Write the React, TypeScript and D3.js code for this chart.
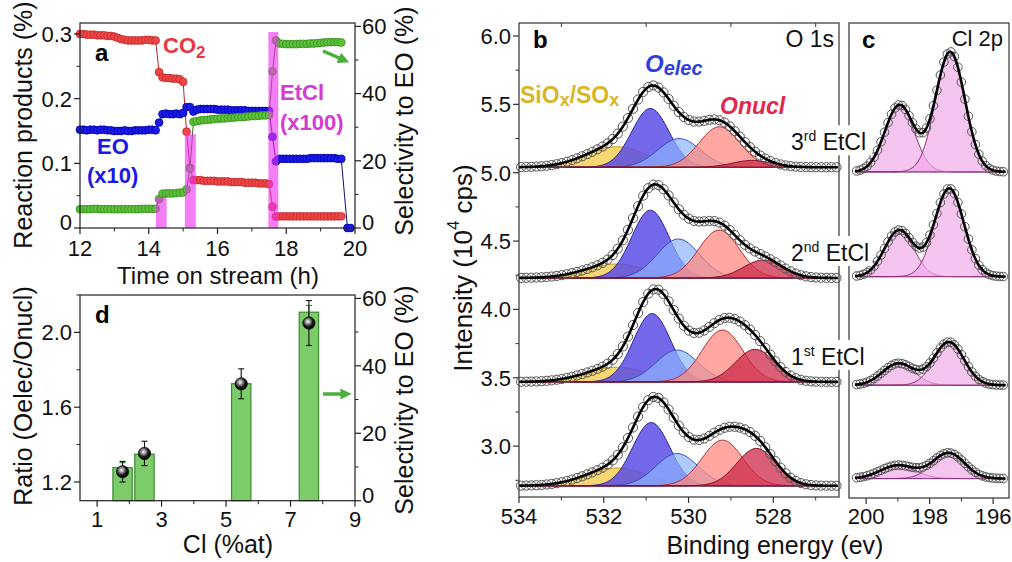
import React from 'react';
import * as d3 from 'd3';

const FONT = "'Liberation Sans', Arial, Helvetica, sans-serif";

// ---------------- Panel a data ----------------
const timeA = [
  12.0, 12.1, 12.2, 12.3, 12.4, 12.5, 12.6, 12.7, 12.8, 12.9,
  13.0, 13.1, 13.2, 13.3, 13.4, 13.5, 13.6, 13.7, 13.8, 13.9,
  14.0, 14.1, 14.2, 14.3, 14.4, 14.5, 14.6, 14.7, 14.8, 14.9,
  15.0, 15.1, 15.2, 15.3, 15.4, 15.5, 15.6, 15.7, 15.8, 15.9,
  16.0, 16.1, 16.2, 16.3, 16.4, 16.5, 16.6, 16.7, 16.8, 16.9,
  17.0, 17.1, 17.2, 17.3, 17.4, 17.5, 17.6, 17.7, 17.8, 17.9,
  18.0, 18.1, 18.2, 18.3, 18.4, 18.5, 18.6, 18.7, 18.8, 18.9,
  19.0, 19.1, 19.2, 19.3, 19.4, 19.5, 19.6,
];
const co2A = [
  0.300, 0.300, 0.299, 0.299, 0.299, 0.298, 0.298, 0.298, 0.297, 0.297, 0.296,
  0.294, 0.292, 0.291,
  0.290, 0.290, 0.290, 0.290, 0.290, 0.291, 0.291, 0.290, 0.290,
  0.241,
  0.233, 0.232, 0.232, 0.231, 0.231, 0.230,
  0.226, 0.149, 0.093,
  0.074, 0.074, 0.074, 0.073, 0.073, 0.073, 0.073, 0.072, 0.072, 0.072, 0.072, 0.071,
  0.071, 0.071, 0.071, 0.070, 0.070, 0.070, 0.070, 0.069, 0.069, 0.069, 0.068,
  0.033, 0.0175,
  0.018, 0.018, 0.018, 0.018, 0.018, 0.018, 0.018, 0.018, 0.018, 0.018,
  0.018, 0.018, 0.018, 0.018, 0.018, 0.018, 0.018, 0.018, 0.018,
];
const eoA = [
  0.152, 0.152, 0.151, 0.152, 0.152, 0.151, 0.152, 0.152, 0.151, 0.151, 0.150, 0.150,
  0.150, 0.151, 0.150, 0.150, 0.151, 0.151, 0.151, 0.151, 0.152, 0.152, 0.151,
  0.163,
  0.176, 0.177, 0.176, 0.176, 0.177, 0.176, 0.178,
  0.187, 0.187,
  0.180,
  0.183, 0.184, 0.184, 0.184, 0.184, 0.184, 0.183, 0.183, 0.183, 0.183, 0.182,
  0.182, 0.182, 0.182, 0.182, 0.181, 0.181, 0.181, 0.181, 0.181, 0.181,
  0.181,
  0.141, 0.103,
  0.107, 0.107, 0.107, 0.107, 0.107, 0.107, 0.107, 0.107, 0.107, 0.108,
  0.108, 0.108, 0.108, 0.108, 0.108, 0.108, 0.108, 0.107, 0.107,
];
const eoTailT = [19.78, 19.87];
const eoTailV = [0, 0];
const selA = [
  5.6, 5.6, 5.6, 5.6, 5.7, 5.7, 5.6, 5.6, 5.6, 5.6, 5.6, 5.6,
  5.6, 5.6, 5.6, 5.6, 5.6, 5.6, 5.7, 5.7, 5.7, 5.7, 5.7,
  8.6,
  10.2, 10.3, 10.3, 10.3, 10.4, 10.5, 10.6,
  11.5, 17.7, 31.6,
  31.8, 32.0, 32.1, 32.2, 32.3, 32.4, 32.5, 32.6, 32.6, 32.7, 32.8,
  32.9, 33.0, 33.0, 33.1, 33.2, 33.3, 33.3, 33.4, 33.5, 33.5,
  33.6,
  46.6, 55.8,
  54.9, 54.8, 54.7, 54.7, 54.7, 54.7, 54.8, 54.8, 54.8, 54.9,
  54.9, 55.0, 55.1, 55.2, 55.3, 55.3, 55.3, 55.3, 55.2,
];
const etclStart = [14.21, 15.05, 17.48];
const etclEnd = [14.52, 15.37, 17.77];
const etclVal = [0.048, 0.145, 0.303];
const aXTicks = [12, 14, 16, 18, 20];
const aXMinor = [13, 15, 17, 19];
const aLTicks = [0, 0.1, 0.2, 0.3];
const aLLabels = ['0', '0.1', '0.2', '0.3'];
const aLMinor = [0.05, 0.15, 0.25];
const aRTicks = [0, 20, 40, 60];
const aRMinor = [10, 30, 50];

// ---------------- Panel d data ----------------
const clAt = [1.79, 2.47, 5.47, 7.57];
const selD = [9.8, 13.8, 34.7, 55.9];
const selDErr = [1.5, 1.5, 1.5, 2.0];
const ratioD = [1.255, 1.353, 1.725, 2.05];
const ratioErr = [0.055, 0.065, 0.08, 0.12];
const dXTicks = [1, 3, 5, 7, 9];
const dXMinor = [2, 4, 6, 8];
const dLTicks = [1.2, 1.6, 2.0];
const dLLabels = ['1.2', '1.6', '2.0'];
const dLMinor = [1.4, 1.8, 2.2];
const dRTicks = [0, 20, 40, 60];
const dRMinor = [10, 30, 50];

// ---------------- Panel b data (O 1s) ----------------
// spectra from bottom to top
const oLabels = ['', '1st', '2nd', '3rd'];
const oBaselines = [2.71, 3.47, 4.23, 5.04];
// component order: SiOx/SOx, Oelec, Oelec(2), Onucl, Onucl(2)
const oCenters = [
  [531.7, 530.88, 530.27, 529.2, 528.4],
  [531.7, 530.86, 530.27, 529.2, 528.43],
  [531.7, 530.9, 530.24, 529.28, 528.24],
  [531.7, 530.9, 530.22, 529.27, 528.5],
];
const oAmps = [
  [0.13, 0.463, 0.236, 0.334, 0.273],
  [0.107, 0.50, 0.233, 0.379, 0.238],
  [0.102, 0.496, 0.285, 0.35, 0.131],
  [0.15, 0.43, 0.21, 0.296, 0.05],
];
const oSigmas = [
  [0.72, 0.44, 0.5, 0.48, 0.46],
  [0.72, 0.44, 0.5, 0.48, 0.46],
  [0.72, 0.44, 0.5, 0.48, 0.46],
  [0.72, 0.44, 0.5, 0.48, 0.46],
];
const bYTicks = [3.0, 3.5, 4.0, 4.5, 5.0, 5.5, 6.0];
const bYLabels = ['3.0', '3.5', '4.0', '4.5', '5.0', '5.5', '6.0'];
const bYMinor = [2.75, 3.25, 3.75, 4.25, 4.75, 5.25, 5.75];
const bXTicks = [534, 532, 530, 528];
const bXMinor = [533, 531, 529, 527];

// ---------------- Panel c data (Cl 2p) ----------------
const clBaselines = [4.1, 23.8, 46.7, 68.8];
const clCenters = [
  [199.0, 197.4],
  [198.98, 197.39],
  [198.96, 197.38],
  [198.95, 197.35],
];
const clAmps = [
  [2.8, 5.4],
  [4.6, 9.1],
  [9.8, 18.6],
  [14.1, 25.3],
];
const clSigmas = [
  [0.55, 0.5],
  [0.5, 0.47],
  [0.46, 0.46],
  [0.46, 0.46],
];
const cXTicks = [200, 198, 196];
const cXMinor = [199, 197];

// ---------------- helpers ----------------
const gauss = (x: number, c: number, a: number, s: number) =>
  a * Math.exp(-((x - c) * (x - c)) / (2 * s * s));

const oFill = ['#f5c842', '#5a4ce6', '#8db4ff', '#ff8a80', '#cc2848'];
const oOpacity = [0.75, 0.85, 0.7, 0.75, 0.75];
const oStroke = ['#c89a10', '#2a2a90', '#3050c0', '#b03030', '#801020'];

export default function App() {
  // scales panel a
  const xA = d3.scaleLinear().domain([12, 20]).range([80, 355]);
  const yAL = d3.scaleLinear().domain([0, 0.317]).range([228, 23]);
  const yAR = d3.scaleLinear().domain([0, 61]).range([228, 23]);
  // panel d
  const xD = d3.scaleLinear().domain([0.47, 9]).range([80, 355]);
  const yDL = d3.scaleLinear().domain([1.1, 2.2]).range([500.7, 295]);
  const yDR = d3.scaleLinear().domain([0, 61]).range([500.7, 295]);
  // panel b
  const xB = d3.scaleLinear().domain([534, 526.45]).range([519, 839]);
  const yB = d3.scaleLinear().domain([2.628, 6.095]).range([497, 23]);
  // panel c
  const xC = d3.scaleLinear().domain([200.54, 195.5]).range([849, 1009]);
  const yC = d3.scaleLinear().domain([0, 100]).range([498, 24]);

  const lineAL = d3.line<[number, number]>().x((d) => xA(d[0])).y((d) => yAL(d[1]));
  const lineAR = d3.line<[number, number]>().x((d) => xA(d[0])).y((d) => yAR(d[1]));

  const co2Pts: [number, number][] = timeA.map((t, i) => [t, co2A[i]]);
  const eoPts: [number, number][] = [
    ...timeA.map((t, i) => [t, eoA[i]] as [number, number]),
    ...eoTailT.map((t, i) => [t, eoTailV[i]] as [number, number]),
  ];
  const selPts: [number, number][] = timeA.map((t, i) => [t, selA[i]]);

  const tickLabel = { fontFamily: FONT, fontSize: 22, fill: '#111' } as const;
  const titleStyle = { fontFamily: FONT, fontSize: 25, fill: '#111' } as const;

  // O 1s curves
  const eGrid = d3.range(534, 526.44, -0.04);
  const eCirc = d3.range(533.95, 526.5, -0.12);
  const oTotal = (s: number, e: number) =>
    oBaselines[s] + oCenters[s].reduce((acc, c, k) => acc + gauss(e, c, oAmps[s][k], oSigmas[s][k]), 0);

  const clGrid = d3.range(200.35, 195.6, -0.03);
  const clCirc = d3.range(200.3, 195.6, -0.11);
  const clTotal = (s: number, e: number) =>
    clBaselines[s] + clCenters[s].reduce((acc, c, k) => acc + gauss(e, c, clAmps[s][k], clSigmas[s][k]), 0);

  const bandColor = '#ee30ee';

  return (
    <svg width={1012} height={562} style={{ position: 'absolute', left: 0, top: 0, background: '#fff' }}>
      <defs>
        <radialGradient id="ball" cx="42%" cy="38%" r="60%">
          <stop offset="0%" stopColor="#ffffff" />
          <stop offset="30%" stopColor="#9a9a9a" />
          <stop offset="65%" stopColor="#1a1a1a" />
          <stop offset="100%" stopColor="#000" />
        </radialGradient>
        <marker id="arrG" viewBox="0 0 10 10" refX="5" refY="5" markerWidth="3.2" markerHeight="3.2" orient="auto">
          <path d="M0,0 L10,5 L0,10 z" fill="#4cae3c" />
        </marker>
      </defs>
      <rect x={0} y={0} width={1012} height={562} fill="#fff" />

      {/* ================= Panel a ================= */}
      <g>
        <path d={lineAL(co2Pts) || ''} fill="none" stroke="#b02828" strokeWidth={1} />
        <path d={lineAL(eoPts) || ''} fill="none" stroke="#101070" strokeWidth={1} />
        <path d={lineAR(selPts) || ''} fill="none" stroke="#2e6e1e" strokeWidth={1} />
        {co2Pts.map((d, i) => (
          <circle key={'r' + i} cx={xA(d[0])} cy={yAL(d[1])} r={3.9} fill="#ee4646" stroke="#c02a2a" strokeWidth={0.8} />
        ))}
        {eoPts.map((d, i) => (
          <circle key={'b' + i} cx={xA(d[0])} cy={yAL(d[1])} r={3.9} fill="#1a1aee" stroke="#0000a0" strokeWidth={0.8} />
        ))}
        {selPts.map((d, i) => (
          <circle key={'g' + i} cx={xA(d[0])} cy={yAR(d[1])} r={3.9} fill="#5cc23a" stroke="#3a8a20" strokeWidth={0.8} />
        ))}
        {etclVal.map((v, i) => (
          <rect key={'band' + i} x={xA(etclStart[i])} y={yAL(v)} width={xA(etclEnd[i]) - xA(etclStart[i])}
            height={yAL(0) - yAL(v)} fill={bandColor} opacity={0.62} />
        ))}
        {/* frame */}
        <rect x={80} y={23} width={275} height={205} fill="none" stroke="#222" strokeWidth={1.2} />
        {aXTicks.map((t) => (
          <g key={'ax' + t}>
            <line x1={xA(t)} x2={xA(t)} y1={228} y2={234} stroke="#222" strokeWidth={1.2} />
            <text x={xA(t)} y={256} textAnchor="middle" style={tickLabel}>{t}</text>
          </g>
        ))}
        {aXMinor.map((t) => (
          <line key={'axm' + t} x1={xA(t)} x2={xA(t)} y1={228} y2={231.5} stroke="#222" strokeWidth={1} />
        ))}
        {aLTicks.map((t, i) => (
          <g key={'al' + t}>
            <line x1={74} x2={80} y1={yAL(t)} y2={yAL(t)} stroke="#222" strokeWidth={1.2} />
            <text x={72} y={yAL(t)} dy={t === 0 ? '0.1em' : '0.36em'} textAnchor="end" style={tickLabel}>{aLLabels[i]}</text>
          </g>
        ))}
        {aLMinor.map((t) => (
          <line key={'alm' + t} x1={76.5} x2={80} y1={yAL(t)} y2={yAL(t)} stroke="#222" strokeWidth={1} />
        ))}
        {aRTicks.map((t) => (
          <g key={'ar' + t}>
            <line x1={355} x2={361} y1={yAR(t)} y2={yAR(t)} stroke="#222" strokeWidth={1.2} />
            <text x={362} y={yAR(t)} dy={t === 0 ? '0.1em' : '0.36em'} textAnchor="start" style={tickLabel}>{t}</text>
          </g>
        ))}
        {aRMinor.map((t) => (
          <line key={'arm' + t} x1={355} x2={358.5} y1={yAR(t)} y2={yAR(t)} stroke="#222" strokeWidth={1} />
        ))}
        <text x={23} y={125} transform="rotate(-90 23 125)" textAnchor="middle" dominantBaseline="central" style={titleStyle}>Reaction products (%)</text>
        <text x={404} y={121} transform="rotate(-90 404 121)" textAnchor="middle" dominantBaseline="central" style={titleStyle}>Selectivity to EO (%)</text>
        <text x={218} y={284} textAnchor="middle" style={{ ...titleStyle, fontSize: 24 }}>Time on stream (h)</text>
        <text x={95} y={61} style={{ fontFamily: FONT, fontSize: 24, fontWeight: 'bold' }}>a</text>
        <text x={163} y={53} style={{ fontFamily: FONT, fontSize: 22, fontWeight: 'bold', fill: '#e8383d' }}>
          CO<tspan fontSize={17} dy={5}>2</tspan>
        </text>
        <text x={97} y={154} style={{ fontFamily: FONT, fontSize: 22, fontWeight: 'bold', fill: '#1a1ae6' }}>EO</text>
        <text x={87} y={183} style={{ fontFamily: FONT, fontSize: 22, fontWeight: 'bold', fill: '#1a1ae6' }}>(x10)</text>
        <text x={280} y={100} style={{ fontFamily: FONT, fontSize: 22, fontWeight: 'bold', fill: '#d23cd2' }}>EtCl</text>
        <text x={280} y={130} style={{ fontFamily: FONT, fontSize: 22, fontWeight: 'bold', fill: '#d23cd2' }}>(x100)</text>
        <line x1={323} y1={51} x2={344} y2={60} stroke="#4cae3c" strokeWidth={3.5} markerEnd="url(#arrG)" />
      </g>

      {/* ================= Panel d ================= */}
      <g>
        {clAt.map((c, i) => (
          <rect key={'bar' + i} x={xD(c - 0.3)} y={yDR(selD[i])} width={xD(c + 0.3) - xD(c - 0.3)}
            height={yDR(0) - yDR(selD[i])} fill="#7ccc6a" stroke="#3d8a30" strokeWidth={1.2} />
        ))}
        {clAt.map((c, i) => (
          <g key={'gerr' + i} stroke="#2e9a2e" strokeWidth={1.2}>
            <line x1={xD(c)} x2={xD(c)} y1={yDR(selD[i] - selDErr[i])} y2={yDR(selD[i] + selDErr[i])} />
            <line x1={xD(c) - 3} x2={xD(c) + 3} y1={yDR(selD[i] + selDErr[i])} y2={yDR(selD[i] + selDErr[i])} />
            <line x1={xD(c) - 3} x2={xD(c) + 3} y1={yDR(selD[i] - selDErr[i])} y2={yDR(selD[i] - selDErr[i])} />
          </g>
        ))}
        {clAt.map((c, i) => (
          <g key={'kerr' + i} stroke="#111" strokeWidth={1.1}>
            <line x1={xD(c)} x2={xD(c)} y1={yDL(ratioD[i] - ratioErr[i])} y2={yDL(ratioD[i] + ratioErr[i])} />
            <line x1={xD(c) - 3} x2={xD(c) + 3} y1={yDL(ratioD[i] + ratioErr[i])} y2={yDL(ratioD[i] + ratioErr[i])} />
            <line x1={xD(c) - 3} x2={xD(c) + 3} y1={yDL(ratioD[i] - ratioErr[i])} y2={yDL(ratioD[i] - ratioErr[i])} />
          </g>
        ))}
        {clAt.map((c, i) => (
          <circle key={'ball' + i} cx={xD(c)} cy={yDL(ratioD[i])} r={6.2} fill="url(#ball)" stroke="#000" strokeWidth={0.6} />
        ))}
        <rect x={80} y={295} width={275} height={205.7} fill="none" stroke="#222" strokeWidth={1.2} />
        {dXTicks.map((t) => (
          <g key={'dx' + t}>
            <line x1={xD(t)} x2={xD(t)} y1={500.7} y2={506.7} stroke="#222" strokeWidth={1.2} />
            <text x={xD(t)} y={527} textAnchor="middle" style={tickLabel}>{t}</text>
          </g>
        ))}
        {dXMinor.map((t) => (
          <line key={'dxm' + t} x1={xD(t)} x2={xD(t)} y1={500.7} y2={504.2} stroke="#222" strokeWidth={1} />
        ))}
        {dLTicks.map((t, i) => (
          <g key={'dl' + t}>
            <line x1={74} x2={80} y1={yDL(t)} y2={yDL(t)} stroke="#222" strokeWidth={1.2} />
            <text x={72} y={yDL(t)} dy="0.36em" textAnchor="end" style={tickLabel}>{dLLabels[i]}</text>
          </g>
        ))}
        {dLMinor.map((t) => (
          <line key={'dlm' + t} x1={76.5} x2={80} y1={yDL(t)} y2={yDL(t)} stroke="#222" strokeWidth={1} />
        ))}
        {dRTicks.map((t) => (
          <g key={'dr' + t}>
            <line x1={355} x2={361} y1={yDR(t)} y2={yDR(t)} stroke="#222" strokeWidth={1.2} />
            <text x={362} y={yDR(t)} dy={t === 0 ? '0.1em' : '0.36em'} textAnchor="start" style={tickLabel}>{t}</text>
          </g>
        ))}
        {dRMinor.map((t) => (
          <line key={'drm' + t} x1={355} x2={358.5} y1={yDR(t)} y2={yDR(t)} stroke="#222" strokeWidth={1} />
        ))}
        <text x={23} y={396} transform="rotate(-90 23 396)" textAnchor="middle" dominantBaseline="central" style={titleStyle}>Ratio (Oelec/Onucl)</text>
        <text x={404} y={400} transform="rotate(-90 404 400)" textAnchor="middle" dominantBaseline="central" style={titleStyle}>Selectivity to EO (%)</text>
        <text x={228} y={553} textAnchor="middle" style={titleStyle}>Cl (%at)</text>
        <text x={95} y={323} style={{ fontFamily: FONT, fontSize: 24, fontWeight: 'bold' }}>d</text>
        <line x1={323} y1={394} x2={346} y2={394} stroke="#4cae3c" strokeWidth={3.5} markerEnd="url(#arrG)" />
      </g>

      {/* ================= Panel b ================= */}
      <g>
        {oBaselines.map((b, s) => (
          <g key={'ospec' + s}>
            {oCenters[s].map((c, k) => {
              const area = d3.area<number>()
                .x((e) => xB(e))
                .y0(yB(b))
                .y1((e) => yB(b + gauss(e, c, oAmps[s][k], oSigmas[s][k])))
                .curve(d3.curveLinear);
              return (
                <path key={'oc' + k} d={area(eGrid) || ''} fill={oFill[k]} fillOpacity={oOpacity[k]}
                  stroke={oStroke[k]} strokeWidth={1} />
              );
            })}
            {eCirc.map((e, j) => (
              <circle key={'oci' + j} cx={xB(e)} cy={yB(oTotal(s, e))} r={4.6} fill="none" stroke="#555" strokeWidth={1} />
            ))}
            <path d={d3.line<number>().x((e) => xB(e)).y((e) => yB(oTotal(s, e)))(eGrid) || ''}
              fill="none" stroke="#000" strokeWidth={2.6} />
          </g>
        ))}
        <rect x={519} y={23} width={320} height={474} fill="none" stroke="#333" strokeWidth={1.2} />
        {bYTicks.map((t, i) => (
          <g key={'by' + t}>
            <line x1={513} x2={519} y1={yB(t)} y2={yB(t)} stroke="#333" strokeWidth={1.2} />
            <text x={511} y={yB(t)} dy="0.36em" textAnchor="end" style={tickLabel}>{bYLabels[i]}</text>
          </g>
        ))}
        {bYMinor.map((t) => (
          <line key={'bym' + t} x1={515.5} x2={519} y1={yB(t)} y2={yB(t)} stroke="#333" strokeWidth={1} />
        ))}
        {bXTicks.map((t) => (
          <g key={'bx' + t}>
            <line x1={xB(t)} x2={xB(t)} y1={497} y2={503} stroke="#333" strokeWidth={1.2} />
            <text x={xB(t)} y={524} textAnchor="middle" style={tickLabel}>{t}</text>
          </g>
        ))}
        {bXMinor.map((t) => (
          <g key={'bxm' + t}>
            <line x1={xB(t)} x2={xB(t)} y1={497} y2={500.5} stroke="#333" strokeWidth={1} />
            <line x1={xB(t)} x2={xB(t)} y1={23} y2={27} stroke="#333" strokeWidth={1} />
          </g>
        ))}
        <text x={533} y={48} style={{ fontFamily: FONT, fontSize: 24, fontWeight: 'bold' }}>b</text>
        <text x={834} y={47} textAnchor="end" style={{ fontFamily: FONT, fontSize: 23, fill: '#111' }}>O 1s</text>
        <text x={520} y={103} style={{ fontFamily: FONT, fontSize: 23, fontWeight: 'bold', fill: '#d9b526' }}>
          SiO<tspan fontSize={18} dy={3}>x</tspan><tspan dy={-3}>/SO</tspan><tspan fontSize={18} dy={3}>x</tspan>
        </text>
        <text x={645} y={72} style={{ fontFamily: FONT, fontSize: 24, fontWeight: 'bold', fontStyle: 'italic', fill: '#2f3fe0' }}>
          O<tspan fontSize={20} dy={3}>elec</tspan>
        </text>
        <text x={720} y={114} style={{ fontFamily: FONT, fontSize: 23, fontWeight: 'bold', fontStyle: 'italic', fill: '#e0284f' }}>Onucl</text>
        <text x={463} y={268} transform="rotate(-90 463 268)" textAnchor="middle" dominantBaseline="central" style={{ ...titleStyle, fontSize: 26 }}>
          Intensity (10<tspan fontSize={17} dy={-10}>4</tspan><tspan dy={10}> cps)</tspan>
        </text>
        <text x={775} y={554} textAnchor="middle" style={{ ...titleStyle, fontSize: 25 }}>Binding energy (ev)</text>
      </g>

      {/* ================= Panel c ================= */}
      <g>
        {clBaselines.map((b, s) => (
          <g key={'clspec' + s}>
            {clCenters[s].map((c, k) => {
              const area = d3.area<number>()
                .x((e) => xC(e))
                .y0(yC(b))
                .y1((e) => yC(b + gauss(e, c, clAmps[s][k], clSigmas[s][k])));
              return (
                <path key={'clc' + k} d={area(clGrid) || ''} fill="#f0a8e8" fillOpacity={0.68}
                  stroke="#8a2a7a" strokeWidth={1} />
              );
            })}
            {clCirc.map((e, j) => (
              <circle key={'clci' + j} cx={xC(e)} cy={yC(clTotal(s, e))} r={4.3} fill="none" stroke="#555" strokeWidth={1} />
            ))}
            <path d={d3.line<number>().x((e) => xC(e)).y((e) => yC(clTotal(s, e)))(clGrid) || ''}
              fill="none" stroke="#000" strokeWidth={2.6} />
          </g>
        ))}
        <rect x={849} y={23} width={160} height={475} fill="none" stroke="#333" strokeWidth={1.2} />
        {cXTicks.map((t) => (
          <g key={'cx' + t}>
            <line x1={xC(t)} x2={xC(t)} y1={498} y2={504} stroke="#333" strokeWidth={1.2} />
            <text x={xC(t)} y={524} textAnchor="middle" style={tickLabel}>{t}</text>
          </g>
        ))}
        {cXMinor.map((t) => (
          <line key={'cxm' + t} x1={xC(t)} x2={xC(t)} y1={498} y2={501.5} stroke="#333" strokeWidth={1} />
        ))}
        <text x={862} y={48} style={{ fontFamily: FONT, fontSize: 24, fontWeight: 'bold' }}>c</text>
        <text x={1003} y={46} textAnchor="end" style={{ fontFamily: FONT, fontSize: 22, fill: '#111' }}>Cl 2p</text>
      </g>

      {/* sample labels across panels b and c */}
      {oLabels.map((lab, s) =>
        lab ? (
          <g key={'lab' + s}>
            <rect x={789} y={yB(oBaselines[s]) - 42} width={83} height={30} fill="#fff" />
            <text x={791} y={yB(oBaselines[s]) - 17} style={{ fontFamily: FONT, fontSize: 23, fill: '#111' }}>
              {lab[0]}<tspan fontSize={14} dy={-9}>{lab.slice(1)}</tspan><tspan dy={9}> EtCl</tspan>
            </text>
          </g>
        ) : null
      )}
    </svg>
  );
}
